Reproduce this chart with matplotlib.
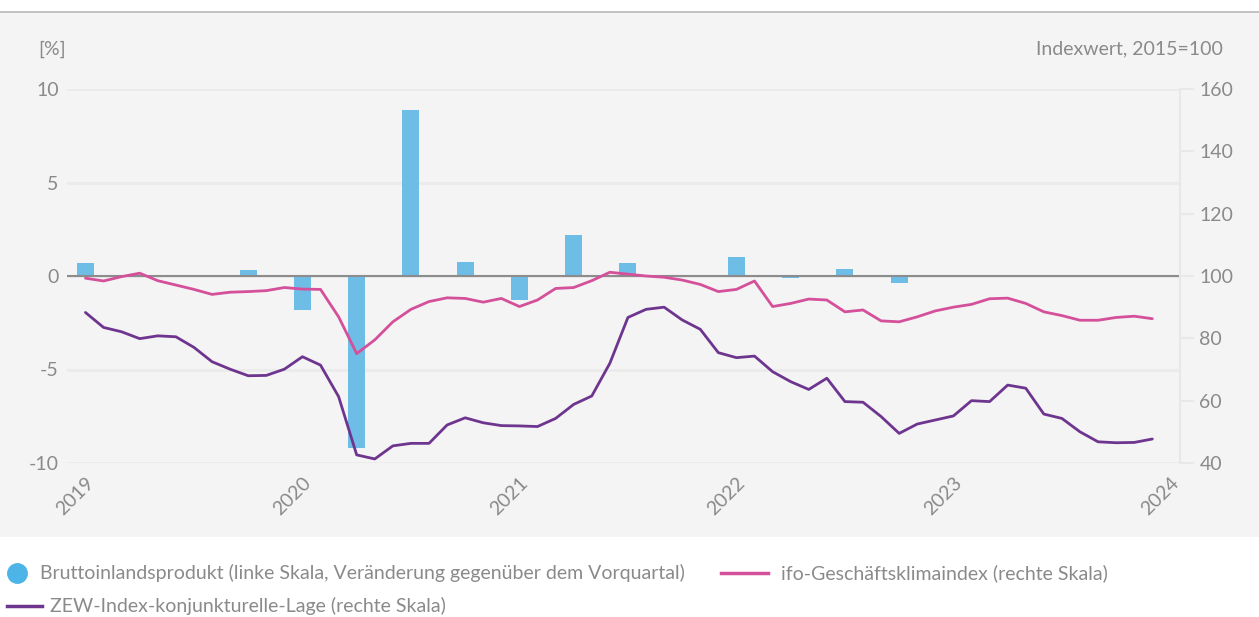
import matplotlib.pyplot as plt
import numpy as np
from matplotlib.patches import Rectangle
from matplotlib.lines import Line2D

plt.rcParams['font.family'] = ['Lato', 'DejaVu Sans']

# months from Jan 2019 (0) to Dec 2023 (59)
years = ['2019', '2020', '2021', '2022', '2023', '2024']

# GDP change vs. previous quarter, 2019Q1 .. 2023Q4
bip = [0.7, -0.05, 0.05, 0.3,
       -1.8, -9.2, 8.9, 0.75,
       -1.3, 2.2, 0.7, 0.0,
       1.0, -0.1, 0.4, -0.4,
       0.0, 0.05, -0.05, 0.0]

ifo = [99.3, 98.4, 99.8, 100.9, 98.5, 97.1, 95.7, 94.1, 94.8, 95.0, 95.3, 96.3,
       95.8, 95.7, 86.9, 75.1, 79.5, 85.3, 89.3, 91.8, 93.0, 92.8, 91.6, 92.8,
       90.2, 92.3, 96.0, 96.3, 98.5, 101.2, 100.6, 100.0, 99.6, 98.7, 97.3, 95.0,
       95.7, 98.4, 90.2, 91.2, 92.6, 92.3, 88.5, 89.1, 85.6, 85.3, 86.9, 88.8,
       90.0, 90.9, 92.7, 92.9, 91.2, 88.5, 87.3, 85.8, 85.8, 86.7, 87.1, 86.3]

zew = [88.3, 83.5, 82.1, 79.9, 80.8, 80.5, 77.1, 72.5, 70.1, 68.0, 68.1, 70.1,
       74.1, 71.4, 61.3, 42.6, 41.3, 45.5, 46.3, 46.3, 52.2, 54.5, 52.9, 52.0,
       51.9, 51.7, 54.3, 58.8, 61.5, 72.0, 86.7, 89.3, 90.0, 85.9, 82.9, 75.4,
       73.8, 74.3, 69.3, 66.1, 63.6, 67.2, 59.7, 59.5, 54.9, 49.5, 52.5, 53.8,
       55.1, 60.0, 59.7, 65.0, 64.0, 55.7, 54.3, 50.0, 46.8, 46.5, 46.6, 47.7]

W, H = 1259, 617
fig = plt.figure(figsize=(W / 100, H / 100), dpi=100)

grey_txt = '#8a8a8a'
fs = 14
fig.patches.append(Rectangle((0, 1 - 537 / H), 1, (537 - 12) / H, transform=fig.transFigure,
                             facecolor='#f4f4f4', edgecolor='none', zorder=-5))
fig.lines.append(Line2D([0, 1], [1 - 12 / H] * 2, transform=fig.transFigure, color='#bdbdbd', lw=1.3))

ax = fig.add_axes([67 / W, 1 - 463 / H, (1180 - 67) / W, (463 - 89) / H])
ax.set_facecolor('none')
ax2 = ax.twinx()

xq = np.arange(len(bip)) * 3
ax.bar(xq, bip, width=0.94, color='#6ebde6', zorder=2)
ax.axhline(0, color='#8c8c8c', lw=1.5, zorder=3)

xm = np.arange(len(ifo))
ax2.plot(xm, ifo, color='#d4509a', lw=2.0, solid_capstyle='round', solid_joinstyle='round')
ax2.plot(xm, zew, color='#6e358f', lw=2.0, solid_capstyle='round', solid_joinstyle='round')

ax.set_xlim(-1.02, 60.53)
ax.set_ylim(-10, 10)
ax2.set_ylim(40, 160)
ax.set_yticks([-10, -5, 0, 5, 10])
ax.set_yticklabels(['-10', '-5', '0', '5', '10'])
ax2.set_yticks([40, 60, 80, 100, 120, 140, 160])
ax.grid(axis='y', color='#ebebeb', lw=2, zorder=0)
ax.set_axisbelow(True)

ax.set_xticks(np.arange(0, 61, 12))
ax.set_xticklabels(years, rotation=45, ha='right', rotation_mode='anchor')

for a in (ax, ax2):
    for s in a.spines.values():
        s.set_visible(False)
ax2.spines['right'].set_visible(True)
ax2.spines['right'].set_color('#e8e8ec')
ax2.spines['right'].set_linewidth(1.5)

ax.tick_params(axis='y', length=0, pad=6, labelsize=fs, labelcolor=grey_txt)
ax.tick_params(axis='x', length=0, pad=8, labelsize=fs, labelcolor=grey_txt)
ax2.tick_params(axis='y', length=10, width=1.5, color='#e8e8ec', pad=4, labelsize=fs, labelcolor=grey_txt)

fig.text(38 / W, 1 - 49 / H, '[%]', fontsize=fs, color=grey_txt, va='center', ha='left')
fig.text(1223 / W, 1 - 49 / H, 'Indexwert, 2015=100', fontsize=fs, color=grey_txt, va='center', ha='right')

# legend
fig.lines.append(Line2D([17 / W], [1 - 573 / H], transform=fig.transFigure, marker='o', ms=14,
                        color='#4db4e8', lw=0))
fig.text(40 / W, 1 - 573 / H, 'Bruttoinlandsprodukt (linke Skala, Veränderung gegenüber dem Vorquartal)',
         fontsize=fs, color=grey_txt, va='center')
fig.lines.append(Line2D([721 / W, 768 / W], [1 - 573 / H] * 2, transform=fig.transFigure,
                        color='#d4509a', lw=2.5))
fig.text(781 / W, 1 - 573 / H, 'ifo-Geschäftsklimaindex (rechte Skala)', fontsize=fs, color=grey_txt, va='center')
fig.lines.append(Line2D([7 / W, 42 / W], [1 - 606 / H] * 2, transform=fig.transFigure,
                        color='#6e358f', lw=2.5))
fig.text(50 / W, 1 - 606 / H, 'ZEW-Index-konjunkturelle-Lage (rechte Skala)', fontsize=fs, color=grey_txt, va='center')

fig.savefig('out.png', dpi=100)
